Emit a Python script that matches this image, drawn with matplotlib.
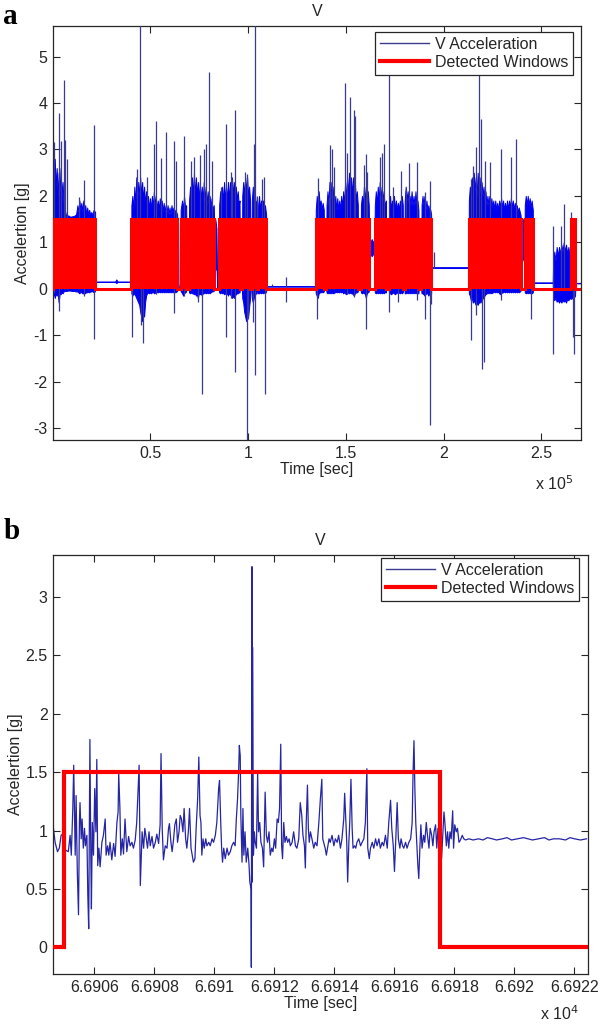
import numpy as np
import matplotlib
matplotlib.use('Agg')
import matplotlib.pyplot as plt
from matplotlib.lines import Line2D
from matplotlib.ticker import FuncFormatter

plt.rcParams['font.family'] = ['Liberation Sans', 'DejaVu Sans']
plt.rcParams['axes.unicode_minus'] = False

# ---------------- Panel a data (time in units of 1e5 s) ----------------
a_win_start = [0.0015, 0.403, 0.655, 0.697, 0.851, 0.969, 1.018, 1.050, 1.345, 1.400,
               1.576, 1.647, 1.720, 1.800, 1.886, 2.128, 2.414, 2.653]
a_win_end = [0.218, 0.638, 0.684, 0.825, 0.957, 1.011, 1.045, 1.093, 1.388, 1.562,
             1.618, 1.706, 1.792, 1.872, 1.937, 2.394, 2.457, 2.674]
a_win_level = 1.5

# envelope of the dense acceleration trace (time, upper edge, lower edge), one line per stretch
a_env_t = [
    0.0015, 0.006, 0.011, 0.016, 0.021, 0.026, 0.031, 0.036, 0.041, 0.046, 0.051, 0.056, 0.062,
    0.070, 0.080, 0.090, 0.100, 0.110, 0.120, 0.127, 0.132, 0.137, 0.142, 0.147, 0.152, 0.157,
    0.162, 0.167, 0.172, 0.177, 0.182, 0.187, 0.192, 0.197, 0.203, 0.210, 0.2175,
    0.2185, 0.320, 0.326, 0.332, 0.402,
    0.403, 0.408, 0.413, 0.418, 0.423, 0.428, 0.433, 0.438, 0.443, 0.448, 0.453, 0.458, 0.463,
    0.468, 0.473, 0.478, 0.483, 0.488, 0.493, 0.498, 0.503, 0.508, 0.513, 0.518, 0.523, 0.528,
    0.533, 0.538, 0.543, 0.548, 0.553, 0.558, 0.563, 0.568, 0.573, 0.578, 0.583, 0.588, 0.593,
    0.598, 0.603, 0.608, 0.613, 0.618, 0.623, 0.628, 0.637,
    0.639, 0.642, 0.644, 0.653,
    0.655, 0.662, 0.668, 0.672, 0.678, 0.683,
    0.685, 0.690, 0.694, 0.696,
    0.698, 0.703, 0.708, 0.713, 0.718, 0.723, 0.728, 0.733, 0.738, 0.743, 0.748, 0.753, 0.758,
    0.763, 0.768, 0.773, 0.778, 0.783, 0.788, 0.793, 0.798, 0.803, 0.808, 0.813, 0.818, 0.824,
    0.826, 0.832, 0.838, 0.842, 0.850,
    0.852, 0.857, 0.862, 0.867, 0.872, 0.877, 0.882, 0.887, 0.892, 0.897, 0.902, 0.907, 0.912,
    0.917, 0.922, 0.927, 0.932, 0.937, 0.942, 0.947, 0.952, 0.956,
    0.958, 0.962, 0.968,
    0.970, 0.975, 0.980, 0.985, 0.990, 0.995, 1.000, 1.005, 1.010,
    1.012, 1.017,
    1.019, 1.024, 1.029, 1.034, 1.039, 1.044,
    1.046, 1.049,
    1.051, 1.056, 1.061, 1.066, 1.071, 1.076, 1.081, 1.086, 1.092,
    1.094, 1.344,
    1.346, 1.351, 1.356, 1.361, 1.366, 1.371, 1.376, 1.381, 1.387,
    1.389, 1.399,
    1.401, 1.406, 1.411, 1.416, 1.421, 1.426, 1.431, 1.436, 1.441, 1.446, 1.451, 1.456, 1.461,
    1.466, 1.471, 1.476, 1.481, 1.486, 1.491, 1.496, 1.501, 1.506, 1.511, 1.516, 1.521, 1.526,
    1.531, 1.536, 1.541, 1.546, 1.551, 1.556, 1.561,
    1.563, 1.575,
    1.577, 1.582, 1.587, 1.592, 1.597, 1.602, 1.607, 1.612, 1.617,
    1.619, 1.625, 1.632, 1.640, 1.646,
    1.648, 1.653, 1.658, 1.663, 1.668, 1.673, 1.678, 1.683, 1.688, 1.693, 1.698, 1.705,
    1.707, 1.719,
    1.721, 1.726, 1.731, 1.736, 1.741, 1.746, 1.751, 1.756, 1.761, 1.766, 1.771, 1.776, 1.781,
    1.786, 1.791,
    1.793, 1.799,
    1.801, 1.806, 1.811, 1.816, 1.821, 1.826, 1.831, 1.836, 1.841, 1.846, 1.851, 1.856, 1.861,
    1.866, 1.871,
    1.873, 1.878, 1.885,
    1.887, 1.892, 1.897, 1.902, 1.907, 1.912, 1.917, 1.922, 1.927, 1.932, 1.936,
    1.938, 2.127,
    2.129, 2.134, 2.139, 2.144, 2.149, 2.154, 2.159, 2.164, 2.169, 2.174, 2.179, 2.184, 2.189,
    2.194, 2.199, 2.204, 2.209, 2.214, 2.219, 2.224, 2.229, 2.234, 2.239, 2.244, 2.249, 2.254,
    2.259, 2.264, 2.269, 2.274, 2.279, 2.284, 2.289, 2.294, 2.299, 2.304, 2.309, 2.314, 2.319,
    2.324, 2.329, 2.334, 2.339, 2.344, 2.349, 2.354, 2.359, 2.364, 2.369, 2.374, 2.379, 2.384,
    2.393,
    2.395, 2.400, 2.405, 2.410, 2.413,
    2.415, 2.420, 2.425, 2.430, 2.435, 2.440, 2.445, 2.450, 2.456,
    2.458, 2.558,
    2.560, 2.566, 2.572, 2.578, 2.584, 2.590, 2.596, 2.602, 2.608, 2.614, 2.620, 2.626, 2.632,
    2.638, 2.644, 2.650, 2.656, 2.662, 2.668, 2.672,
    2.675, 2.700]
a_env_hi = [
    3.1, 2.3, 2.8, 2.2, 2.6, 2.0, 2.5, 2.1, 2.6, 2.0, 2.3, 1.8, 1.7,
    1.56, 1.58, 1.55, 1.56, 1.57, 1.6, 1.8, 1.65, 1.9, 1.7, 1.85, 1.65, 1.9,
    1.7, 1.8, 1.6, 1.75, 1.6, 1.7, 1.6, 1.65, 1.6, 1.7, 1.65,
    0.155, 0.155, 0.2, 0.155, 0.155,
    1.8, 2.0, 1.7, 2.2, 1.8, 2.4, 1.9, 2.3, 2.0, 2.4, 2.0, 2.3, 1.9,
    2.2, 1.8, 2.1, 1.8, 2.0, 1.7, 1.95, 1.7, 2.0, 1.75, 2.1, 1.8, 2.0,
    1.7, 1.9, 1.7, 1.95, 1.7, 1.9, 1.65, 1.85, 1.65, 1.8, 1.65, 1.8, 1.6,
    1.75, 1.6, 1.8, 1.65, 1.75, 1.6, 1.7, 1.6,
    1.4, 1.4, 0.0, 0.0,
    1.7, 1.9, 1.7, 2.0, 1.75, 1.8,
    1.07, 0.9, 0.0, 0.0,
    1.9, 2.2, 1.9, 2.4, 2.0, 2.5, 2.0, 2.4, 2.0, 2.3, 1.9, 2.3, 1.9,
    2.2, 1.9, 2.3, 1.9, 2.2, 1.8, 2.1, 1.8, 2.0, 1.75, 1.95, 1.7, 1.8,
    1.5, 1.5, 1.3, 0.0, 0.0,
    1.8, 2.1, 1.8, 2.2, 1.85, 2.3, 1.9, 2.2, 1.9, 2.3, 1.9, 2.3, 2.0,
    2.4, 2.0, 2.3, 1.9, 2.2, 1.9, 2.1, 1.8, 1.9,
    0.8, 0.0, 0.0,
    2.0, 2.3, 2.0, 2.4, 2.1, 2.4, 2.0, 2.2, 1.9,
    0.0, 0.0,
    1.9, 2.2, 1.9, 2.1, 1.8, 1.9,
    0.0, 0.0,
    1.8, 2.0, 1.7, 1.9, 1.7, 1.9, 1.7, 1.8, 1.6,
    0.055, 0.055,
    1.7, 2.0, 1.8, 2.1, 1.8, 1.9, 1.7, 1.85, 1.7,
    0.0, 0.0,
    1.8, 2.1, 1.8, 2.3, 1.9, 2.3, 1.9, 2.2, 1.8, 2.0, 1.7, 1.95, 1.7,
    1.9, 1.7, 2.0, 1.75, 2.1, 1.8, 2.3, 1.9, 2.4, 2.0, 2.5, 2.0, 2.4,
    2.0, 2.4, 2.0, 2.3, 1.9, 2.1, 1.8,
    0.0, 0.0,
    1.8, 2.0, 1.8, 2.2, 1.9, 2.2, 1.9, 2.1, 1.8,
    1.1, 1.0, 1.07, 1.0, 1.05,
    1.8, 2.1, 1.8, 2.2, 1.9, 2.3, 1.9, 2.2, 1.9, 2.1, 1.8, 1.9,
    0.0, 0.0,
    1.8, 2.0, 1.7, 1.9, 1.7, 2.0, 1.7, 1.9, 1.7, 1.85, 1.7, 1.9, 1.75,
    2.0, 1.8,
    0.0, 0.0,
    1.9, 2.2, 1.9, 2.1, 1.8, 2.0, 1.8, 2.1, 1.8, 2.0, 1.8, 2.1, 1.8,
    1.9, 1.7,
    0.8, 0.0, 0.0,
    1.8, 2.0, 1.8, 2.0, 1.7, 1.9, 1.7, 1.8, 1.65, 1.7, 1.6,
    0.465, 0.465,
    1.9, 2.2, 2.0, 2.4, 2.1, 2.5, 2.1, 2.4, 2.0, 2.5, 2.1, 2.4, 2.0,
    2.3, 2.0, 2.2, 1.9, 2.1, 1.8, 2.0, 1.8, 2.0, 1.75, 1.95, 1.75, 1.9,
    1.7, 1.9, 1.7, 1.85, 1.7, 1.9, 1.75, 1.95, 1.75, 1.9, 1.7, 1.85, 1.7,
    1.9, 1.7, 1.9, 1.75, 1.95, 1.75, 1.9, 1.7, 1.85, 1.7, 1.8, 1.65, 1.75,
    1.6,
    1.5, 1.4, 1.5, 1.2, 1.0,
    1.8, 2.0, 1.8, 2.0, 1.8, 1.95, 1.75, 1.9, 1.7,
    0.135, 0.135,
    0.6, 0.8, 0.6, 0.9, 0.7, 0.9, 0.75, 0.95, 0.8, 1.0, 0.8, 0.95, 0.75,
    0.9, 0.7, 0.85, 0.7, 0.8, 0.6, 0.5,
    0.125, 0.125]
a_env_lo = [
    -0.15, -0.1, -0.2, -0.1, -0.15, -0.1, -0.3, -0.1, -0.12, -0.08, -0.1, -0.06, -0.05,
    -0.05, -0.04, -0.04, -0.05, -0.05, -0.06, -0.06, -0.08, -0.1, -0.06, -0.08, -0.1, -0.1,
    -0.08, -0.1, -0.06, -0.08, -0.06, -0.08, -0.06, -0.06, -0.05, -0.08, -0.05,
    0.145, 0.145, 0.12, 0.145, 0.145,
    -0.1, -0.15, -0.1, -0.12, -0.15, -0.2, -0.25, -0.3, -0.35, -0.5, -0.6, -0.7, -0.5,
    -0.6, -0.3, -0.15, -0.1, -0.08, -0.1, -0.08, -0.1, -0.08, -0.06, -0.1, -0.08, -0.1,
    -0.06, -0.08, -0.06, -0.08, -0.06, -0.08, -0.06, -0.08, -0.06, -0.08, -0.06, -0.08, -0.06,
    -0.08, -0.06, -0.08, -0.06, -0.08, -0.06, -0.08, -0.05,
    0.1, 0.1, 0.0, 0.0,
    -0.05, -0.1, -0.15, -0.1, -0.08, -0.06,
    0.5, 0.6, 0.0, 0.0,
    -0.08, -0.1, -0.08, -0.1, -0.1, -0.12, -0.1, -0.15, -0.12, -0.2, -0.1, -0.12, -0.1,
    -0.15, -0.1, -0.1, -0.08, -0.1, -0.08, -0.1, -0.08, -0.1, -0.08, -0.06, -0.06, -0.05,
    0.6, 0.4, 0.5, 0.0, 0.0,
    -0.08, -0.1, -0.08, -0.1, -0.08, -0.12, -0.1, -0.12, -0.1, -0.15, -0.1, -0.12, -0.15,
    -0.2, -0.15, -0.2, -0.15, -0.12, -0.1, -0.1, -0.08, -0.08,
    0.0, 0.0, 0.0,
    -0.2, -0.3, -0.5, -0.6, -0.7, -0.5, -0.6, -0.4, -0.2,
    0.0, 0.0,
    -0.2, -0.3, -0.2, -0.15, -0.1, -0.1,
    0.0, 0.0,
    -0.1, -0.1, -0.08, -0.1, -0.08, -0.1, -0.08, -0.1, -0.06,
    0.045, 0.045,
    -0.1, -0.15, -0.2, -0.1, -0.08, -0.08, -0.06, -0.08, -0.06,
    0.0, 0.0,
    -0.08, -0.1, -0.08, -0.1, -0.08, -0.1, -0.08, -0.1, -0.08, -0.08, -0.06, -0.08, -0.06,
    -0.08, -0.06, -0.08, -0.06, -0.1, -0.08, -0.1, -0.12, -0.1, -0.08, -0.1, -0.08, -0.1,
    -0.1, -0.12, -0.15, -0.1, -0.08, -0.08, -0.06,
    0.0, 0.0,
    -0.08, -0.1, -0.08, -0.1, -0.1, -0.2, -0.1, -0.08, -0.06,
    0.7, 0.75, 0.7, 0.75, 0.72,
    -0.08, -0.1, -0.08, -0.1, -0.08, -0.1, -0.08, -0.1, -0.08, -0.1, -0.08, -0.08,
    0.0, 0.0,
    -0.1, -0.1, -0.12, -0.1, -0.08, -0.1, -0.12, -0.1, -0.08, -0.1, -0.08, -0.1, -0.08,
    -0.1, -0.08,
    0.0, 0.0,
    -0.1, -0.1, -0.08, -0.1, -0.08, -0.1, -0.08, -0.1, -0.08, -0.1, -0.08, -0.1, -0.08,
    -0.1, -0.1,
    0.0, 0.0, 0.0,
    -0.1, -0.1, -0.12, -0.15, -0.12, -0.1, -0.1, -0.15, -0.1, -0.15, -0.1,
    0.445, 0.445,
    -0.1, -0.15, -0.25, -0.2, -0.3, -0.25, -0.3, -0.35, -0.3, -0.35, -0.3, -0.3, -0.25,
    -0.3, -0.2, -0.2, -0.15, -0.12, -0.1, -0.1, -0.08, -0.1, -0.08, -0.1, -0.08, -0.08,
    -0.06, -0.08, -0.06, -0.08, -0.06, -0.1, -0.12, -0.1, -0.08, -0.08, -0.06, -0.08, -0.06,
    -0.08, -0.06, -0.08, -0.06, -0.08, -0.06, -0.08, -0.06, -0.08, -0.06, -0.08, -0.06, -0.08,
    -0.05,
    0.6, 0.55, 0.7, 0.6, 0.6,
    -0.08, -0.1, -0.08, -0.1, -0.08, -0.1, -0.08, -0.1, -0.08,
    0.125, 0.125,
    -0.2, -0.25, -0.2, -0.28, -0.25, -0.3, -0.25, -0.3, -0.25, -0.28, -0.25, -0.3, -0.22,
    -0.25, -0.2, -0.22, -0.2, -0.22, -0.18, -0.15,
    0.115, 0.115]

# individual spikes: time, top, bottom
a_spk_t = [0.0069, 0.0307, 0.0324, 0.0409, 0.0563, 0.0648, 0.0733, 0.1347, 0.1586, 0.2114,
           0.4075, 0.4313, 0.4484, 0.4535, 0.462, 0.4825, 0.5166, 0.5303, 0.5558, 0.5814,
           0.619, 0.629, 0.6718, 0.7093, 0.721, 0.7434, 0.7553, 0.7655, 0.7724, 0.786,
           0.7997, 0.815, 0.8627, 0.8883, 0.919, 0.9105, 0.9344, 0.9855, 0.994, 0.999,
           1.0247, 1.028, 1.0332, 1.047, 1.071, 1.081, 1.086, 1.122, 1.192, 1.354,
           1.359, 1.413, 1.420, 1.431, 1.437, 1.495, 1.505, 1.519, 1.541, 1.546,
           1.591, 1.601, 1.605, 1.610, 1.672, 1.686, 1.694, 1.720, 1.740, 1.766,
           1.783, 1.821, 1.809, 1.865, 1.903, 1.928, 1.937, 1.951, 2.138, 2.150,
           2.167, 2.179, 2.193, 2.196, 2.206, 2.210, 2.235, 2.291, 2.343, 2.368,
           2.448, 2.559, 2.601, 2.615, 2.653, 2.661, 2.666]
a_spk_hi = [3.15, 1.0, 3.78, 3.19, 4.5, 3.2, 2.8, 1.97, 2.35, 3.53,
            1.0, 2.58, 5.7, 1.0, 1.0, 2.4, 3.12, 3.62, 2.81, 3.37,
            3.19, 2.76, 3.28, 2.76, 2.83, 1.0, 2.87, 1.0, 3.02, 3.12,
            4.66, 2.76, 2.19, 3.55, 2.37, 2.51, 3.84, 2.51, 2.47, 1.0,
            1.0, 3.12, 5.7, 2.0, 2.37, 2.4, 1.0, 0.1, 0.25, 1.0,
            2.38, 1.98, 3.1, 3.01, 2.62, 4.44, 2.92, 4.14, 3.84, 3.73,
            2.67, 2.9, 1.0, 2.51, 2.83, 2.92, 3.12, 4.7, 2.19, 1.0,
            2.54, 2.71, 2.15, 2.72, 2.08, 2.31, 1.0, 0.8, 2.37, 2.65,
            3.05, 4.8, 3.66, 1.0, 1.0, 2.76, 2.72, 3.01, 2.83, 3.23,
            1.0, 1.36, 1.36, 1.83, 1.65, 1.0, 1.0]
a_spk_lo = [-0.1, -0.47, 0.0, 0.0, 0.0, 0.0, 0.0, 0.0, -0.15, -1.08,
            -1.04, 0.0, 0.0, -0.79, -1.18, 0.0, 0.0, -0.12, 0.0, 0.0,
            -0.52, 0.0, -0.15, 0.0, 0.0, -0.29, 0.0, -2.27, 0.0, 0.0,
            0.0, 0.0, 0.0, -1.05, 0.0, -0.2, -1.79, 0.0, -3.26, -0.65,
            -0.72, 0.0, -1.86, 0.0, 0.0, 0.0, -2.26, 0.05, -0.29, -0.65,
            0.0, 0.0, 0.0, 0.0, 0.0, 0.0, -0.12, 0.0, -0.18, 0.0,
            0.0, 0.0, -0.87, 0.0, 0.0, 0.0, 0.0, -0.5, 0.0, -0.29,
            0.0, 0.0, 0.0, -0.25, -0.65, -2.94, -0.32, 0.45, -1.11, 0.0,
            -0.57, 0.0, 0.0, -1.72, -1.58, 0.0, 0.0, -0.25, 0.0, 0.0,
            -0.65, -1.4, 0.0, 0.0, 0.0, -1.04, -1.4]

# ---------------- Panel b data (time offset from 66900 s) ----------------
b_t = [4.63, 4.69, 4.77, 4.83, 4.89, 4.94, 4.99, 5.06, 5.13, 5.19, 5.23, 5.28, 5.31, 5.36, 5.39,
       5.43, 5.47, 5.50, 5.52, 5.56, 5.59, 5.63, 5.67, 5.70, 5.75, 5.78, 5.81, 5.85, 5.88, 5.90,
       5.93, 5.97, 6.01, 6.05, 6.08, 6.11, 6.15, 6.19, 6.25, 6.30, 6.36, 6.39, 6.44, 6.48, 6.52,
       6.58, 6.64, 6.69, 6.75, 6.79, 6.81, 6.85, 6.88, 6.93, 6.97, 7.02, 7.08, 7.14, 7.19, 7.25,
       7.30, 7.36, 7.41, 7.46, 7.49, 7.53, 7.56, 7.59, 7.64, 7.68, 7.73, 7.77, 7.82, 7.86, 7.92,
       7.97, 8.03, 8.08, 8.14, 8.19, 8.22, 8.26, 8.30, 8.36, 8.42, 8.47, 8.50, 8.55, 8.59, 8.64,
       8.68, 8.73, 8.77, 8.82, 8.86, 8.90, 8.95, 8.99, 9.04, 9.08, 9.13, 9.17, 9.22, 9.26, 9.30,
       9.35, 9.39, 9.44, 9.48, 9.52, 9.55, 9.58, 9.62, 9.66, 9.71, 9.75, 9.81, 9.86, 9.92, 9.97,
       10.03, 10.08, 10.14, 10.17, 10.21, 10.24, 10.27, 10.31, 10.36, 10.42, 10.47, 10.53, 10.58,
       10.64, 10.69, 10.73, 10.77, 10.81, 10.83, 10.86, 10.88, 10.92, 10.95, 10.98, 11.02, 11.06,
       11.11, 11.15, 11.18, 11.22, 11.23, 11.25, 11.26, 11.27, 11.30, 11.33, 11.36, 11.40, 11.44,
       11.47, 11.51, 11.55, 11.60, 11.64, 11.69, 11.73, 11.77, 11.82, 11.86, 11.91, 11.95, 12.00,
       12.04, 12.09, 12.13, 12.17, 12.21, 12.24, 12.27, 12.31, 12.35, 12.40, 12.44, 12.49, 12.53,
       12.59, 12.64, 12.70, 12.75, 12.81, 12.86, 12.91, 12.95, 13.00, 13.03, 13.06, 13.10, 13.13,
       13.16, 13.20, 13.25, 13.31, 13.36, 13.42, 13.48, 13.53, 13.58, 13.61, 13.64, 13.69, 13.73,
       13.78, 13.82, 13.86, 13.92, 13.98, 14.03, 14.09, 14.14, 14.20, 14.25, 14.31, 14.34, 14.38,
       14.41, 14.44, 14.48, 14.51, 14.55, 14.59, 14.62, 14.67, 14.71, 14.75, 14.81, 14.87, 14.92,
       14.98, 15.03, 15.08, 15.11, 15.16, 15.20, 15.26, 15.31, 15.37, 15.42, 15.48, 15.53, 15.59,
       15.64, 15.70, 15.76, 15.81, 15.87, 15.91, 15.96, 16.00, 16.04, 16.09, 16.13, 16.18, 16.22,
       16.27, 16.31, 16.37, 16.42, 16.48, 16.54, 16.59, 16.62, 16.65, 16.68, 16.71, 16.75, 16.78,
       16.81, 16.85, 16.88, 16.92, 16.97, 17.01, 17.06, 17.10, 17.15, 17.19, 17.24, 17.28, 17.32,
       17.37, 17.41, 17.45, 17.48, 17.53, 17.57, 17.61, 17.65, 17.68, 17.73, 17.77, 17.81, 17.85,
       17.89, 17.94, 17.97, 18.01, 18.06, 18.10, 18.15, 18.20, 18.26, 18.31, 18.37, 18.48, 18.62,
       18.80, 18.95, 19.10, 19.26, 19.40, 19.60, 19.75, 19.90, 20.10, 20.30, 20.45, 20.60, 20.80,
       21.00, 21.15, 21.30, 21.50, 21.70, 21.85, 22.00, 22.20, 22.40]
b_v = [1.03, 0.90, 0.82, 0.85, 0.96, 0.97, 0.85, 0.83, 0.82, 0.96, 0.79, 1.19, 1.56, 0.79, 1.30,
       0.65, 0.28, 1.07, 1.24, 0.93, 1.10, 0.85, 1.02, 0.87, 0.96, 0.45, 0.16, 1.78, 0.79, 0.33,
       1.07, 0.79, 1.36, 0.99, 1.61, 0.70, 0.85, 0.69, 0.90, 0.96, 1.10, 0.79, 0.87, 0.79, 0.90,
       0.75, 0.89, 0.78, 1.07, 1.16, 1.49, 1.19, 0.79, 0.93, 0.80, 1.10, 0.82, 0.95, 0.87, 0.90,
       0.85, 0.92, 1.07, 1.39, 1.56, 0.53, 0.76, 0.99, 0.85, 1.02, 0.93, 0.85, 0.99, 0.87, 0.95,
       0.85, 0.90, 0.97, 0.89, 1.05, 1.66, 1.02, 0.75, 0.87, 0.85, 1.02, 1.06, 0.90, 0.82, 0.93,
       1.05, 1.10, 0.90, 0.99, 1.13, 1.10, 0.99, 1.19, 0.93, 0.85, 0.99, 1.19, 0.85, 0.79, 0.73,
       0.76, 1.02, 1.27, 1.63, 1.13, 1.07, 0.79, 0.93, 0.85, 0.93, 0.87, 0.90, 0.87, 0.93, 0.90,
       0.96, 1.07, 1.36, 1.43, 1.07, 0.85, 0.73, 0.85, 0.76, 0.85, 0.79, 0.82, 0.87,
       0.90, 0.87, 1.10, 1.27, 1.53, 1.73, 1.64, 1.13, 0.73, 1.19, 0.79, 0.99, 0.73,
       0.85, 0.72, 0.56, 0.50, -0.17, 3.26, 0.56, 2.57, 0.79, 0.99, 0.90, 0.85, 1.50,
       0.99, 1.07, 0.90, 0.85, 0.69, 1.33, 0.96, 0.90, 0.99, 0.79, 0.85, 0.82, 0.93,
       0.85, 1.10, 1.07, 1.19, 1.74, 0.87, 0.76, 1.07, 0.90, 0.95, 0.90, 0.93, 0.87,
       0.90, 0.99, 0.87, 0.85, 0.93, 1.24, 1.13, 0.96, 0.87, 0.68, 1.07, 1.39, 1.02,
       0.90, 0.99, 0.93, 0.85, 0.90, 0.87, 1.07, 1.27, 1.44, 0.93, 0.90, 0.85, 0.79,
       0.87, 0.93, 0.90, 0.96, 0.87, 0.93, 0.90, 0.96, 0.85, 0.93, 1.10, 1.32, 1.07,
       0.90, 0.56, 0.90, 1.07, 1.44, 1.02, 0.85, 0.87, 0.85, 0.90, 0.93, 0.87, 0.90,
       0.93, 1.07, 1.53, 0.85, 0.76, 0.85, 0.90, 0.85, 0.93, 0.87, 0.93, 0.85, 0.90,
       0.87, 0.96, 0.85, 1.07, 1.26, 1.02, 0.87, 0.65, 0.90, 1.24, 0.93, 0.85, 0.93,
       0.87, 0.85, 0.90, 0.85, 0.90, 0.93, 1.07, 1.50, 1.77, 1.36, 1.07, 0.85, 0.70,
       0.59, 0.87, 1.05, 0.85, 0.96, 0.90, 1.07, 0.96, 0.85, 1.02, 0.96, 0.87, 0.99,
       1.05, 0.85, 1.02, 0.90, 0.99, 0.76, 0.96, 1.16, 1.07, 0.87, 0.99, 0.85, 0.99,
       0.93, 1.17, 0.85, 1.05, 0.99, 1.02, 0.90, 0.92, 0.96, 0.93, 0.92, 0.93, 0.92,
       0.93, 0.92, 0.94, 0.93, 0.92, 0.93, 0.94, 0.92, 0.93, 0.94, 0.93, 0.92, 0.93,
       0.94, 0.92, 0.93, 0.93, 0.92, 0.94, 0.93, 0.92, 0.93]
b_win_rise = 4.99
b_win_fall = 17.51
b_win_level = 1.5

# ---------------- Axis settings ----------------
a_xlim = (0.002, 2.70)
a_ylim = (-3.26, 5.66)
a_xticks = [0.5, 1.0, 1.5, 2.0, 2.5]
a_yticks = [-3, -2, -1, 0, 1, 2, 3, 4, 5]
b_base = 66900.0
b_xlim = (4.63, 22.45)
b_ylim = (-0.23, 3.36)
b_xticks = [6, 8, 10, 12, 14, 16, 18, 20, 22]
b_yticks = [0, 0.5, 1, 1.5, 2, 2.5, 3]

labels = ['V Acceleration', 'Detected Windows']
title = 'V'
xlabel = 'Time [sec]'
ylabel = 'Accelertion [g]'

assert len(a_env_t) == len(a_env_hi) == len(a_env_lo)
assert len(a_spk_t) == len(a_spk_hi) == len(a_spk_lo)
assert len(b_t) == len(b_v)

# ---------------- Drawing ----------------
W, H = 600, 1027
fig = plt.figure(figsize=(W / 100, H / 100), dpi=100)

def px_axes(l, t, r, b):
    return fig.add_axes([l / W, 1 - b / H, (r - l) / W, (b - t) / H])

axA = px_axes(53, 26, 580.5, 440)
axB = px_axes(53.3, 555, 588, 974.3)

FS = 11.5
TXT = '#262626'
BLUE_D = '#0000f0'
BLUE_L = '#3a3a92'
RED = '#ff0000'

def style(ax):
    for s in ax.spines.values():
        s.set_linewidth(0.9)
        s.set_color(TXT)
    ax.tick_params(direction='in', length=5, width=0.8, top=True, right=True,
                   labelsize=FS, colors=TXT, pad=4)

# Panel a
ta = np.array(a_env_t) * 1e5
axA.fill_between(ta, a_env_lo, a_env_hi, facecolor=BLUE_D, edgecolor=BLUE_D, lw=0.7, zorder=2)
axA.vlines(np.array(a_spk_t) * 1e5, a_spk_lo, a_spk_hi, color=BLUE_L, lw=0.9, zorder=3)
xs = [a_xlim[0] * 1e5]
ys = [0.0]
for s, e in zip(a_win_start, a_win_end):
    axA.fill_between([s * 1e5, e * 1e5], 0, a_win_level, color=RED, lw=0, zorder=4)
    xs += [s * 1e5, s * 1e5, e * 1e5, e * 1e5]
    ys += [0.0, a_win_level, a_win_level, 0.0]
xs.append(a_xlim[1] * 1e5)
ys.append(0.0)
axA.plot(xs, ys, color=RED, lw=2.2, zorder=5, solid_joinstyle='miter')
axA.set_xlim(a_xlim[0] * 1e5, a_xlim[1] * 1e5)
axA.set_ylim(*a_ylim)
axA.set_xticks(np.array(a_xticks) * 1e5)
axA.xaxis.set_major_formatter(FuncFormatter(lambda v, p: f'{v / 1e5:g}'))
axA.set_yticks(a_yticks)
style(axA)

# Panel b
tb = b_base + np.array(b_t)
axB.plot(tb, b_v, color='#2525a5', lw=0.9, zorder=2)
bx = [b_base + b_xlim[0], b_base + b_win_rise, b_base + b_win_rise,
      b_base + b_win_fall, b_base + b_win_fall, b_base + b_xlim[1]]
by = [0, 0, b_win_level, b_win_level, 0, 0]
axB.plot(bx, by, color=RED, lw=3.0, zorder=4, solid_joinstyle='miter')
axB.set_xlim(b_base + b_xlim[0], b_base + b_xlim[1])
axB.set_ylim(*b_ylim)
axB.set_xticks([b_base + v for v in b_xticks])
axB.xaxis.set_major_formatter(FuncFormatter(lambda v, p: f'{v / 1e4:.5g}'))
axB.set_yticks(b_yticks)
axB.yaxis.set_major_formatter(FuncFormatter(lambda v, p: f'{v:g}'))
style(axB)

for ax, anchor in ((axA, (0.9858, 0.9855)), (axB, (0.983, 0.993))):
    ax.set_title(title, fontsize=FS, color=TXT, pad=7)
    ax.set_xlabel(xlabel, fontsize=FS, color=TXT, labelpad=1)
    ax.set_ylabel(ylabel, fontsize=FS, color=TXT, labelpad=2)
    handles = [Line2D([], [], color=BLUE_L, lw=1.0), Line2D([], [], color=RED, lw=3.0)]
    leg = ax.legend(handles, labels, loc='upper right', bbox_to_anchor=anchor,
                    borderaxespad=0, fancybox=False, edgecolor=TXT, framealpha=1,
                    handlelength=3.1, handletextpad=0.35, borderpad=0.3,
                    labelspacing=0.2, fontsize=FS)
    leg.get_frame().set_linewidth(0.9)
    for t in leg.get_texts():
        t.set_color(TXT)
    leg.set_zorder(10)

fig.text(573 / W, 1 - 490 / H, r'x 10$^{5}$', fontsize=FS, color=TXT, ha='right', va='baseline')
fig.text(579 / W, 1 - 1020 / H, r'x 10$^{4}$', fontsize=FS, color=TXT, ha='right', va='baseline')
fig.text(3 / W, 1 - 24 / H, 'a', fontsize=21, fontweight='bold', family='Liberation Serif',
         ha='left', va='baseline')
fig.text(4 / W, 1 - 539 / H, 'b', fontsize=21, fontweight='bold', family='Liberation Serif',
         ha='left', va='baseline')

fig.savefig('out.png', dpi=100)
